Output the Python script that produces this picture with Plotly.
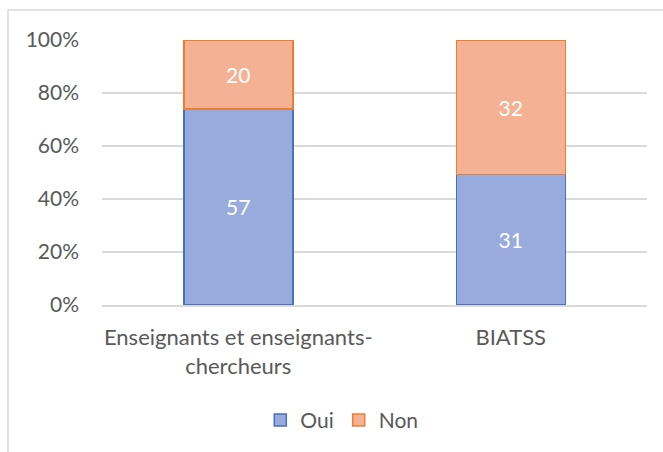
import plotly.graph_objects as go

# Survey answers per staff group (counts); bars are normalised to 100 %
categories = ["Enseignants et enseignants-<br>chercheurs", "BIATSS"]
oui = [57, 31]
non = [20, 32]
y_ticks = [0, 20, 40, 60, 80, 100]
y_tick_labels = ["0%", "20%", "40%", "60%", "80%", "100%"]

FONT = "Lato, Calibri, sans-serif"
GREY = "#595959"
SIZE = 21

fig = go.Figure()
fig.add_trace(go.Bar(
    name="Oui", x=categories, y=oui, text=oui,
    texttemplate="%{text}", textposition="inside", insidetextanchor="middle",
    textfont=dict(color="white", size=SIZE, family=FONT),
    marker=dict(color="#98abdc", line=dict(color="#4472c4", width=1.5)),
))
fig.add_trace(go.Bar(
    name="Non", x=categories, y=non, text=non,
    texttemplate="%{text}", textposition="inside", insidetextanchor="middle",
    textfont=dict(color="white", size=SIZE, family=FONT),
    marker=dict(color="#f5b193", line=dict(color="#ed7d31", width=1.5)),
))

fig.update_layout(
    width=663, height=452,
    margin=dict(l=102, r=16, t=40, b=146),
    barmode="stack", barnorm="percent", bargap=0.6,
    plot_bgcolor="white", paper_bgcolor="white",
    font=dict(family=FONT, size=SIZE, color=GREY),
    showlegend=True,
    legend=dict(orientation="h", x=0.44, xanchor="center", y=-0.43, yanchor="middle",
                font=dict(size=SIZE, color=GREY), traceorder="normal",
                itemwidth=30),
    shapes=[dict(type="rect", xref="paper", yref="paper",
                 x0=-0.1725, x1=1.2, y0=-0.8, y1=1.1128,
                 line=dict(color="#d9d9d9", width=1.5), fillcolor="rgba(0,0,0,0)",
                 layer="below")],
)
fig.update_yaxes(range=[0, 100], tickmode="array", tickvals=y_ticks, ticktext=y_tick_labels,
                 showgrid=True, gridcolor="#d9d9d9", gridwidth=1.5,
                 zeroline=False, showline=False, ticks="", ticklabelstandoff=22,
                 tickfont=dict(size=SIZE, color=GREY, family=FONT))
fig.update_xaxes(showline=True, linecolor="#d9d9d9", linewidth=1.5, ticks="",
                 ticklabelstandoff=12,
                 tickfont=dict(size=22, color=GREY, family=FONT))

fig.write_html("out.html")
